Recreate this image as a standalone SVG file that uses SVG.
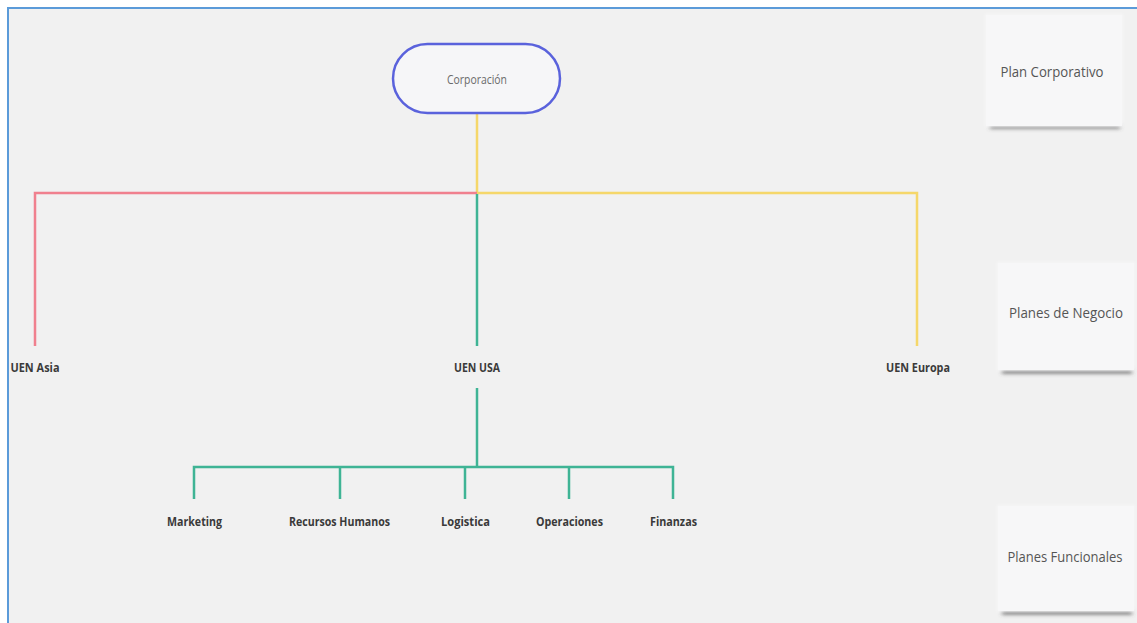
<svg xmlns="http://www.w3.org/2000/svg" width="1137" height="623" viewBox="0 0 1137 623">
  <defs>
    <filter id="blur" x="-20%" y="-200%" width="140%" height="500%">
      <feGaussianBlur stdDeviation="2"/>
    </filter>
    <filter id="soft" x="-10%" y="-10%" width="120%" height="120%">
      <feGaussianBlur stdDeviation="1.5"/>
    </filter>
  </defs>
  <style>
    .lbl { font-family: "Open Sans", "Liberation Sans", sans-serif; font-weight: bold; font-size: 13px; fill: #3a3a3a; text-anchor: middle; }
    .note { font-family: "Open Sans", "Liberation Sans", sans-serif; font-size: 14px; fill: #555; text-anchor: middle; }
    .red { stroke: #f0808e; stroke-width: 2.5; fill: none; }
    .yel { stroke: #f5d76a; stroke-width: 2.5; fill: none; }
    .grn { stroke: #3fb495; stroke-width: 2.5; fill: none; }
  </style>
  <rect x="0" y="0" width="1137" height="623" fill="#ffffff"/>
  <rect x="8" y="8" width="1129" height="615" fill="#f1f1f1"/>
  <line x1="7" y1="8" x2="1137" y2="8" stroke="#5b9bd9" stroke-width="2"/>
  <line x1="8" y1="7" x2="8" y2="623" stroke="#5b9bd9" stroke-width="2"/>

  <g id="connectors">
    <polyline class="yel" points="477,114 477,193"/>
    <polyline class="red" points="477,193 35,193 35,346"/>
    <polyline class="yel" points="477,193 917,193 917,346"/>
    <polyline class="grn" points="477,194 477,346"/>
    <polyline class="grn" points="477,388 477,467"/>
    <polyline class="grn" points="194,499 194,467 673,467 673,499"/>
    <line class="grn" x1="340" y1="467" x2="340" y2="499"/>
    <line class="grn" x1="465" y1="467" x2="465" y2="499"/>
    <line class="grn" x1="569" y1="467" x2="569" y2="499"/>
  </g>

  <g id="corporacion">
    <rect x="393" y="44" width="167" height="69" rx="34.5" ry="34.5" fill="#f6f6f8" stroke="#5a62dc" stroke-width="2.5"/>
    <text x="477" y="84" font-family="'Open Sans', 'Liberation Sans', sans-serif" font-size="13" fill="#6a6a6a" text-anchor="middle" textLength="60" lengthAdjust="spacingAndGlyphs">Corporación</text>
  </g>

  <g id="uen-asia"><text class="lbl" x="35" y="372" textLength="49" lengthAdjust="spacingAndGlyphs">UEN Asia</text></g>
  <g id="uen-usa"><text class="lbl" x="477" y="372" textLength="46" lengthAdjust="spacingAndGlyphs">UEN USA</text></g>
  <g id="uen-europa"><text class="lbl" x="918" y="372" textLength="64" lengthAdjust="spacingAndGlyphs">UEN Europa</text></g>

  <g id="marketing"><text class="lbl" x="194.5" y="526" textLength="55" lengthAdjust="spacingAndGlyphs">Marketing</text></g>
  <g id="recursos-humanos"><text class="lbl" x="339.5" y="526" textLength="101" lengthAdjust="spacingAndGlyphs">Recursos Humanos</text></g>
  <g id="logistica"><text class="lbl" x="465.5" y="526" textLength="49" lengthAdjust="spacingAndGlyphs">Logistica</text></g>
  <g id="operaciones"><text class="lbl" x="569.5" y="526" textLength="67" lengthAdjust="spacingAndGlyphs">Operaciones</text></g>
  <g id="finanzas"><text class="lbl" x="673.5" y="526" textLength="47" lengthAdjust="spacingAndGlyphs">Finanzas</text></g>

  <g id="note-plan-corporativo">
    <rect x="990" y="124" width="130" height="4" fill="#555" filter="url(#blur)"/>
    <rect x="985" y="14" width="138" height="113" fill="#f6f6f7" filter="url(#soft)"/>
    <rect x="986" y="15" width="136" height="111" fill="#f7f7f8"/>
    <text class="note" x="1052" y="77" textLength="103" lengthAdjust="spacingAndGlyphs">Plan Corporativo</text>
  </g>

  <g id="note-planes-negocio">
    <rect x="1002" y="369" width="130" height="4" fill="#555" filter="url(#blur)"/>
    <rect x="997" y="262" width="138" height="109" fill="#f6f6f7" filter="url(#soft)"/>
    <rect x="998" y="263" width="136" height="107" fill="#f7f7f8"/>
    <text class="note" x="1066" y="318" textLength="114" lengthAdjust="spacingAndGlyphs">Planes de  Negocio</text>
  </g>

  <g id="note-planes-funcionales">
    <rect x="1002" y="610" width="130" height="4" fill="#555" filter="url(#blur)"/>
    <rect x="997" y="505" width="138" height="107" fill="#f6f6f7" filter="url(#soft)"/>
    <rect x="998" y="506" width="136" height="105" fill="#f7f7f8"/>
    <text class="note" x="1065" y="562" textLength="115" lengthAdjust="spacingAndGlyphs">Planes Funcionales</text>
  </g>
</svg>
